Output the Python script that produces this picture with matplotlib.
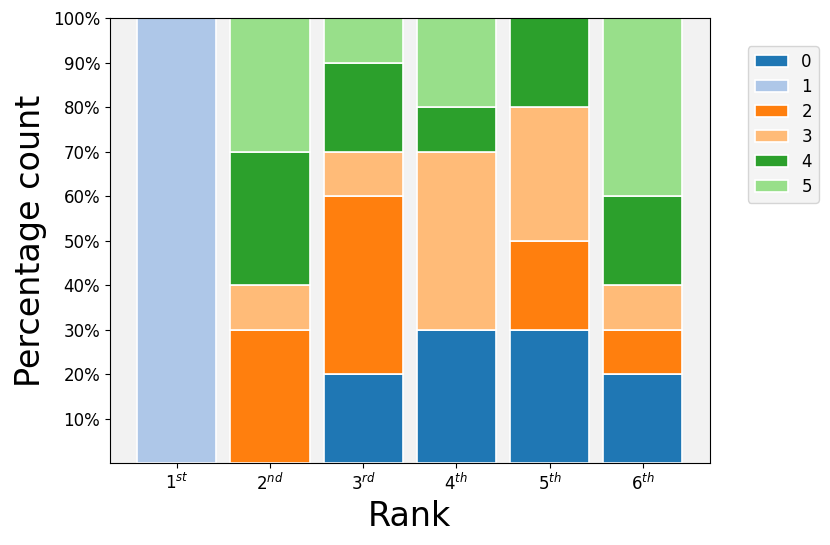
import numpy as np
import matplotlib
matplotlib.use("Agg")
import matplotlib.pyplot as plt

ranks = ['$1^{st}$', '$2^{nd}$', '$3^{rd}$', '$4^{th}$', '$5^{th}$', '$6^{th}$']
groups = ['0', '1', '2', '3', '4', '5']

# percentage of each group at each rank
pct_0 = [0, 0, 20, 30, 30, 20]
pct_1 = [100, 0, 0, 0, 0, 0]
pct_2 = [0, 30, 40, 0, 20, 10]
pct_3 = [0, 10, 10, 40, 30, 10]
pct_4 = [0, 30, 20, 10, 20, 20]
pct_5 = [0, 30, 10, 20, 0, 40]

colors = plt.cm.tab20.colors[:6]

fig = plt.figure(figsize=(8.3, 5.45), dpi=100)
ax = fig.add_axes([0.1325, 0.150, 0.7225, 0.817])
ax.set_facecolor('#f2f2f2')

x = np.arange(len(ranks))
bottom = np.zeros(len(ranks))
for name, vals, c in zip(groups, [pct_0, pct_1, pct_2, pct_3, pct_4, pct_5], colors):
    ax.bar(x, vals, 0.85, bottom=bottom, color=c, edgecolor='white', linewidth=1.2, label=name)
    bottom += np.array(vals)

ax.set_ylim(0, 100)
ax.set_yticks(range(10, 101, 10))
ax.set_yticklabels(['%d%%' % v for v in range(10, 101, 10)], fontsize=12)
ax.set_xticks(x)
ax.set_xticklabels(ranks, fontsize=12)
ax.set_xlabel('Rank', fontsize=24)
ax.set_ylabel('Percentage count', fontsize=24)

leg = ax.legend(loc='upper left', bbox_to_anchor=(1.05, 0.955), fontsize=12, labelspacing=0.42)
leg.get_frame().set_facecolor('#f2f2f2')

fig.savefig('out.png')
